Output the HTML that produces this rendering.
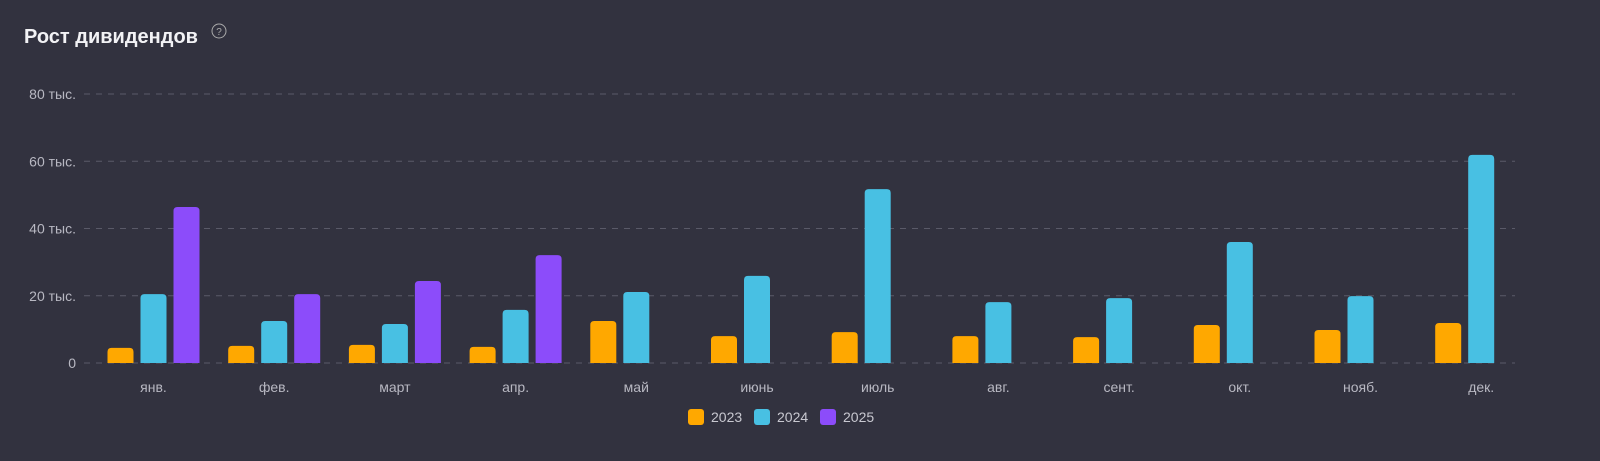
<!DOCTYPE html>
<html><head><meta charset="utf-8"><style>
body{margin:0;width:1600px;height:456px;background:#32323f;overflow:hidden;font-family:"Liberation Sans",sans-serif}
</style></head><body>
<svg width="1600" height="456">
<text x="24" y="43" fill="#f2f2f5" font-size="20" font-weight="bold">Рост дивидендов</text>
<g><circle cx="219" cy="31" r="7" fill="none" stroke="#aaa" stroke-width="1"/><text x="219" y="35" font-size="10" fill="#aaa" text-anchor="middle">?</text></g>
<g id="grid"></g><g id="bars"></g><g id="xl"></g>
<g>
<g><rect x="688" y="409" width="16" height="16" rx="3" fill="#ffa800"/><text x="711" y="422" fill="#c8c8d0" font-size="14">2023</text></g>
<g><rect x="754" y="409" width="16" height="16" rx="3" fill="#48c0e3"/><text x="777" y="422" fill="#c8c8d0" font-size="14">2024</text></g>
<g><rect x="820" y="409" width="16" height="16" rx="3" fill="#8c4cfa"/><text x="843" y="422" fill="#c8c8d0" font-size="14">2025</text></g>
</g>
</svg>
<script>
const months=["янв.","фев.","март","апр.","май","июнь","июль","авг.","сент.","окт.","нояб.","дек."];
const s2023=[4.5,5.1,5.4,4.8,12.5,8.0,9.2,8.0,7.7,11.3,9.8,11.9];
const s2024=[20.5,12.5,11.6,15.8,21.1,25.9,51.7,18.1,19.3,36.0,19.9,61.9];
const s2025=[46.4,20.5,24.4,32.1,null,null,null,null,null,null,null,null];
const yTicks=[0,20,40,60,80];
const yTickLabels=["0","20 тыс.","40 тыс.","60 тыс.","80 тыс."];
const NS="http://www.w3.org/2000/svg";
const y=v=>363-v*(269/80);
const xc=i=>153.5+i*120.7;
function mk(t,a,p){const e=document.createElementNS(NS,t);for(const k in a)e.setAttribute(k,a[k]);document.getElementById(p).appendChild(e);return e;}
yTicks.forEach((t,i)=>{
 const l=mk("line",{x1:84,x2:1515,y1:y(t),y2:y(t),stroke:"#5a5a68","stroke-dasharray":"6,6"},"grid");
 
 
 const tx=mk("text",{x:76,y:y(t)+5,fill:"#b8b8c2","font-size":"14","text-anchor":"end"},"grid");
 tx.textContent=yTickLabels[i];
 
 
});
const series=[[s2023,"#ffa800",-33,"2023"],[s2024,"#48c0e3",0,"2024"],[s2025,"#8c4cfa",33,"2025"]];
months.forEach((m,i)=>{
 const t=mk("text",{x:xc(i),y:392,fill:"#b8b8c2","font-size":"14","text-anchor":"middle"},"xl");
 t.textContent=m;
 
 
 series.forEach(([d,c,o,n])=>{
  const v=d[i]; if(v==null)return;
  const h=363-y(v);
  const r=mk("path",{d:`M${xc(i)+o-13},363 V${y(v)+4} q0,-4 4,-4 h18 q4,0 4,4 V363 Z`,fill:c},"bars");
  
  
 });
});
</script>
</body></html>
